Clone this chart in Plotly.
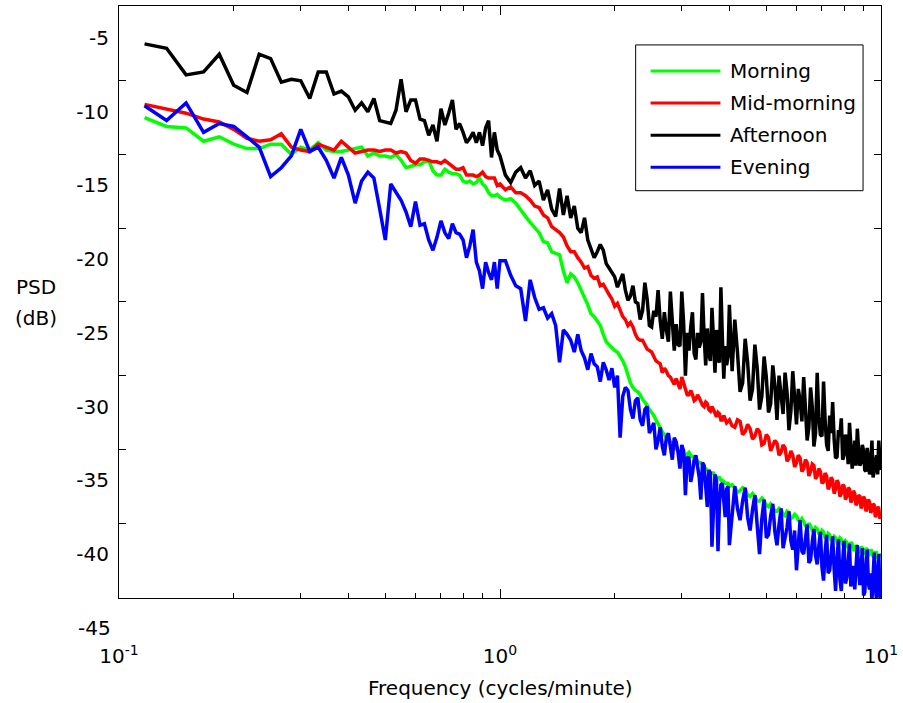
import plotly.graph_objects as go

# ---------------- data ----------------
FREQ = [
    0.1167, 0.1333, 0.15, 0.1667, 0.1833, 0.2, 0.2167, 0.2333, 0.25, 0.2667,
    0.2833, 0.3, 0.3167, 0.3333, 0.35, 0.3667, 0.3833, 0.4, 0.4167, 0.4333,
    0.45, 0.4667, 0.4833, 0.5, 0.5167, 0.5333, 0.55, 0.5667, 0.5833, 0.6,
    0.6167, 0.6333, 0.65, 0.6667, 0.6833, 0.7, 0.7167, 0.7333, 0.75, 0.7667,
    0.7833, 0.8, 0.8167, 0.8333, 0.85, 0.8667, 0.8833, 0.9, 0.9167, 0.9333,
    0.95, 0.9667, 0.9833, 1.0,
    1.0333, 1.0667, 1.1, 1.1333, 1.1667, 1.2, 1.2333, 1.2667, 1.3, 1.3333,
    1.3667, 1.4, 1.4333, 1.4667, 1.5, 1.5333, 1.5667, 1.6, 1.6333, 1.6667,
    1.7, 1.7333, 1.7667, 1.8, 1.8333, 1.8667, 1.9, 1.9333, 1.9667, 2.0,
    2.0333, 2.0667, 2.1, 2.1333, 2.1667, 2.2, 2.2333, 2.2667, 2.3, 2.3333,
    2.3667, 2.4, 2.4333, 2.4667, 2.5, 2.5333, 2.5667, 2.6, 2.6333, 2.6667,
    2.7, 2.7333, 2.7667, 2.8, 2.8333, 2.8667, 2.9, 2.9333, 2.9667, 3.0,
    3.0333, 3.0667, 3.1, 3.1333, 3.1667, 3.2, 3.2333, 3.2667, 3.3, 3.3333,
    3.3667, 3.4, 3.4333, 3.4667, 3.5, 3.5333, 3.5667, 3.6, 3.6333, 3.6667,
    3.7, 3.7333, 3.7667, 3.8, 3.8333, 3.8667, 3.9, 3.9333, 3.9667, 4.0,
    4.0667, 4.1333, 4.2, 4.2667, 4.3333, 4.4, 4.4667, 4.5333, 4.6, 4.6667,
    4.7333, 4.8, 4.8667, 4.9333, 5.0, 5.0667, 5.1333, 5.2, 5.2667, 5.3333,
    5.4, 5.4667, 5.5333, 5.6, 5.6667, 5.7333, 5.8, 5.8667, 5.9333, 6.0,
    6.0667, 6.1333, 6.2, 6.2667, 6.3333, 6.4, 6.4667, 6.5333, 6.6, 6.6667,
    6.7333, 6.8, 6.8667, 6.9333, 7.0, 7.0667, 7.1333, 7.2, 7.2667, 7.3333,
    7.4, 7.4667, 7.5333, 7.6, 7.6667, 7.7333, 7.8, 7.8667, 7.9333, 8.0,
    8.0667, 8.1333, 8.2, 8.2667, 8.3333, 8.4, 8.4667, 8.5333, 8.6, 8.6667,
    8.7333, 8.8, 8.8667, 8.9333, 9.0, 9.0667, 9.1333, 9.2, 9.2667, 9.3333,
    9.4, 9.4667, 9.5333, 9.6, 9.6667, 9.7333, 9.8, 9.8667, 9.9333, 10.0,
]

MORNING = [
    -10.4, -11.0, -11.1, -12.0, -11.7, -12.2, -12.5, -12.5, -12.2, -12.2,
    -12.9, -12.4, -12.6, -12.1, -12.6, -12.7, -12.7, -12.6, -12.5, -12.4,
    -13.0, -12.8, -13.0, -13.0, -13.1, -12.9, -13.3, -13.8, -13.7, -13.6,
    -13.6, -13.4, -13.3, -14.0, -14.3, -14.3, -13.9, -14.1, -14.2, -14.2,
    -14.3, -14.7, -14.8, -14.7, -14.9, -14.8, -14.5, -14.9, -15.1, -15.5,
    -15.7, -15.7, -15.6, -15.8,
    -16.0, -15.9, -16.2, -16.7, -17.1, -17.5, -17.9, -18.2, -18.8, -18.9,
    -19.5, -19.6, -19.7, -20.8, -21.6, -21.0, -21.2, -21.6, -22.1, -22.6,
    -23.1, -23.7, -23.9, -24.2, -24.5, -25.1, -25.6, -25.8, -26.0, -26.2,
    -26.3, -26.6, -26.9, -27.3, -27.9, -28.4, -28.7, -28.9, -29.0, -29.2,
    -29.5, -29.7, -29.9, -30.2, -30.4, -30.6, -30.9, -31.2, -31.5, -31.7,
    -31.9, -32.1, -32.3, -32.4, -32.5, -32.7, -32.9, -33.0, -33.1, -33.3,
    -33.2, -33.3, -33.2, -33.1, -33.3, -33.4, -33.4, -33.5, -33.7, -33.8,
    -33.8, -34.0, -34.1, -34.2, -34.3, -34.4, -34.5, -34.5, -34.5, -34.7,
    -34.8, -34.8, -34.8, -35.0, -35.0, -35.1, -35.2, -35.2, -35.2, -35.4,
    -35.3, -35.5, -35.8, -35.7, -35.5, -35.6, -36.0, -36.1, -35.9, -36.1,
    -36.4, -36.4, -36.2, -36.4, -36.7, -36.8, -36.6, -36.8, -37.1, -37.1,
    -36.9, -37.0, -37.3, -37.4, -37.1, -37.2, -37.6, -37.5, -37.3, -37.4,
    -37.7, -37.8, -37.6, -37.8, -38.1, -38.2, -37.9, -38.1, -38.4, -38.5,
    -38.2, -38.3, -38.6, -38.7, -38.4, -38.5, -38.9, -38.9, -38.6, -38.7,
    -39.1, -39.0, -38.8, -38.9, -39.2, -39.1, -38.9, -39.0, -39.4, -39.3,
    -39.1, -39.2, -39.6, -39.5, -39.2, -39.3, -39.7, -39.7, -39.4, -39.5,
    -39.9, -39.8, -39.5, -39.6, -40.0, -39.9, -39.6, -39.7, -40.1, -40.0,
    -39.7, -39.8, -40.2, -40.1, -39.9, -39.9, -40.3, -40.2, -40.0, -40.1,
]

MID_MORNING = [
    -9.5, -9.8, -10.1, -10.5, -10.7, -11.2, -11.8, -12.0, -11.9, -11.5,
    -12.4, -12.6, -12.7, -12.2, -12.4, -12.6, -12.0, -12.4, -12.8, -12.7,
    -12.6, -12.6, -12.7, -12.6, -12.6, -12.8, -12.7, -12.8, -13.3, -13.5,
    -13.2, -13.2, -13.3, -13.4, -13.4, -13.5, -13.3, -13.5, -13.7, -13.9,
    -13.9, -13.8, -14.3, -14.3, -14.3, -14.4, -14.3, -14.1, -14.4, -14.5,
    -14.5, -14.5, -15.0, -14.9,
    -15.3, -15.1, -15.5, -15.5, -15.7, -16.0, -16.4, -16.5, -17.0, -17.2,
    -17.8, -18.0, -18.2, -18.5, -19.1, -19.5, -19.5, -19.9, -20.2, -20.6,
    -20.5, -21.1, -21.3, -21.2, -21.8, -21.7, -22.1, -22.4, -22.7, -23.2,
    -23.0, -23.4, -23.9, -24.1, -24.5, -24.3, -24.6, -25.1, -25.4, -25.5,
    -25.5, -25.8, -26.1, -26.2, -26.3, -26.6, -26.9, -27.0, -27.1, -27.7,
    -27.4, -27.6, -27.9, -28.0, -28.3, -28.5, -28.1, -28.5, -28.8, -28.0,
    -28.4, -28.9, -29.2, -29.2, -28.9, -29.2, -29.6, -29.5, -29.2, -29.4,
    -29.7, -29.9, -30.0, -29.7, -29.8, -30.2, -30.3, -30.0, -30.2, -30.5,
    -30.7, -30.4, -30.5, -30.9, -30.9, -30.6, -30.8, -31.1, -31.0, -30.9,
    -31.3, -31.4, -30.9, -31.0, -31.9, -31.7, -31.2, -31.5, -32.2, -32.0,
    -31.5, -31.7, -32.6, -32.5, -31.9, -32.1, -33.0, -32.7, -32.3, -32.5,
    -33.3, -33.1, -32.6, -32.8, -33.7, -33.5, -33.0, -33.3, -34.1, -33.8,
    -33.3, -33.5, -34.4, -34.2, -33.6, -33.8, -34.7, -34.4, -33.9, -34.0,
    -34.9, -34.7, -34.2, -34.4, -35.2, -35.1, -34.5, -34.7, -35.6, -35.4,
    -34.8, -35.0, -35.9, -35.6, -35.0, -35.2, -36.1, -35.9, -35.3, -35.4,
    -36.3, -36.1, -35.5, -35.6, -36.5, -36.3, -35.7, -35.9, -36.7, -36.5,
    -36.0, -36.1, -36.9, -36.7, -36.1, -36.3, -37.1, -36.9, -36.3, -36.5,
    -37.2, -37.0, -36.6, -36.7, -37.5, -37.3, -36.8, -36.9, -37.6, -37.4,
]

AFTERNOON = [
    -5.4, -5.7, -7.5, -7.3, -6.1, -8.2, -8.7, -6.1, -6.4, -8.0,
    -7.8, -7.9, -9.1, -7.3, -7.3, -8.8, -8.6, -9.0, -9.9, -9.4,
    -10.0, -9.1, -10.6, -10.7, -10.8, -9.9, -7.8, -10.0, -9.2, -9.2,
    -10.5, -10.6, -11.6, -10.9, -12.0, -9.8, -10.9, -10.1, -9.2, -11.2,
    -10.8, -11.4, -12.1, -11.8, -11.4, -12.1, -11.4, -12.3, -11.1, -10.6,
    -13.1, -11.4, -12.6, -13.0,
    -14.3, -14.8, -14.1, -13.8, -14.5, -14.0, -15.0, -14.7, -16.0, -15.3,
    -16.6, -17.1, -15.2, -17.0, -15.7, -17.2, -16.4, -17.9, -18.2, -17.2,
    -18.7, -19.3, -19.9, -19.5, -19.0, -19.4, -20.3, -20.6, -20.9, -21.2,
    -21.9, -21.5, -21.0, -22.1, -22.8, -22.5, -21.8, -22.9, -23.0, -24.1,
    -23.5, -21.6, -22.7, -24.5, -24.6, -23.5, -23.9, -22.1, -24.2, -25.4,
    -23.6, -24.8, -25.6, -22.2, -24.0, -26.2, -24.4, -25.8, -25.9, -22.2,
    -24.3, -27.9, -25.0, -26.2, -24.6, -23.6, -26.4, -26.8, -25.0, -26.0,
    -25.6, -22.3, -25.2, -27.2, -24.7, -26.5, -26.9, -23.3, -25.4, -27.7,
    -24.8, -26.8, -27.0, -21.9, -25.3, -28.1, -25.9, -27.2, -26.6, -23.1,
    -27.6, -24.1, -26.3, -29.0, -28.4, -25.4, -27.0, -29.6, -28.8, -25.8,
    -27.4, -30.2, -29.3, -26.6, -28.0, -30.4, -29.8, -27.2, -28.6, -30.9,
    -27.9, -29.2, -30.5, -27.7, -29.0, -31.6, -30.3, -27.6, -29.9, -31.2,
    -28.8, -29.6, -31.0, -28.0, -30.1, -32.3, -31.4, -28.7, -30.0, -32.7,
    -31.8, -27.7, -30.7, -31.9, -32.0, -28.3, -30.9, -32.6, -33.0, -30.6,
    -31.8, -29.7, -32.2, -33.5, -33.4, -31.6, -32.0, -30.8, -33.6, -33.3,
    -31.9, -32.3, -33.9, -31.1, -32.6, -34.2, -33.4, -32.3, -34.0, -31.5,
    -32.9, -34.0, -33.8, -32.6, -33.0, -34.3, -34.4, -32.8, -33.6, -34.6,
    -33.9, -32.3, -34.8, -34.3, -33.5, -33.3, -34.6, -32.3, -33.7, -34.3,
]

EVENING = [
    -9.6, -10.6, -9.4, -11.4, -10.8, -11.0, -11.7, -12.4, -14.4, -13.8,
    -13.0, -11.2, -12.7, -12.4, -13.3, -14.5, -13.1, -14.3, -16.2, -14.7,
    -14.1, -14.5, -16.6, -18.7, -14.9, -15.5, -16.0, -16.8, -17.8, -16.1,
    -17.7, -17.6, -18.7, -19.4, -18.5, -17.4, -18.2, -18.6, -17.6, -18.2,
    -18.3, -18.7, -19.9, -19.1, -18.0, -20.2, -20.8, -22.0, -20.2, -20.9,
    -21.4, -20.2, -22.0, -20.1,
    -20.1, -21.1, -21.8, -22.0, -24.2, -21.4, -22.6, -23.4, -23.3, -24.0,
    -23.7, -24.5, -27.0, -24.8, -25.1, -25.5, -26.3, -25.1, -26.2, -26.7,
    -27.5, -26.4, -27.1, -27.3, -28.3, -27.0, -27.5, -28.2, -27.4, -28.7,
    -27.9, -32.1, -29.3, -28.7, -28.9, -30.2, -30.8, -29.6, -29.4, -30.9,
    -31.3, -30.2, -30.0, -31.8, -31.5, -31.1, -32.9, -32.3, -31.4, -32.7,
    -33.3, -32.1, -31.8, -32.9, -33.6, -32.1, -32.4, -33.1, -34.2, -32.6,
    -33.0, -36.0, -33.4, -33.5, -35.1, -34.5, -33.6, -33.3, -33.9, -34.8,
    -36.3, -33.8, -34.0, -35.6, -36.8, -34.3, -34.5, -39.5, -37.0, -34.6,
    -35.0, -39.8, -36.6, -35.3, -35.2, -36.3, -37.5, -35.6, -35.4, -39.4,
    -37.2, -35.4, -36.9, -37.7, -36.4, -35.5, -37.5, -38.4, -37.0, -36.0,
    -38.1, -40.0, -37.6, -36.3, -38.9, -38.7, -37.4, -36.6, -38.5, -39.4,
    -38.0, -36.9, -39.6, -39.0, -38.2, -37.1, -39.1, -39.7, -38.4, -41.1,
    -39.3, -37.7, -39.8, -40.0, -39.0, -38.0, -40.6, -40.4, -39.2, -38.3,
    -40.1, -40.7, -39.5, -38.5, -40.9, -41.8, -39.9, -38.7, -41.3, -41.1,
    -40.0, -38.8, -41.0, -42.5, -40.3, -39.0, -41.7, -42.5, -40.5, -39.1,
    -42.0, -41.6, -40.6, -39.3, -42.2, -41.4, -40.8, -42.4, -41.2, -39.4,
    -41.0, -42.1, -40.9, -39.6, -42.8, -42.6, -41.0, -39.7, -42.0, -42.4,
    -41.3, -43.2, -41.5, -39.9, -42.3, -43.1, -41.6, -40.0, -42.7, -43.4,
]

SERIES_NAMES = ["Morning", "Mid-morning", "Afternoon", "Evening"]
SERIES_COLORS = ["#00ff00", "#ff0000", "#000000", "#0000ff"]
SERIES_VALUES = [MORNING, MID_MORNING, AFTERNOON, EVENING]

X_TICK_VALS = [0.1, 1, 10]
X_TICK_TEXT = ["10<sup>-1</sup>", "10<sup>0</sup>", "10<sup>1</sup>"]
X_MINOR_VALS = [0.2, 0.3, 0.4, 0.5, 0.6, 0.7, 0.8, 0.9, 2, 3, 4, 5, 6, 7, 8, 9]
Y_TICK_VALS = [-5, -10, -15, -20, -25, -30, -35, -40]
Y_TICK_TEXT = ["-5", "-10", "-15", "-20", "-25", "-30", "-35", "-40"]
Y_EXTRA_LABEL = "-45"
Y_MINOR_VALS = [-7.9, -12.9, -17.9, -22.9, -27.9, -32.9, -37.9]
Y_RANGE = [-42.98, -2.83]

# ---------------- layout geometry ----------------
W, H = 903, 703
ML, MR, MT, MB = 119, 20, 5, 105
PW, PH = W - ML - MR, H - MT - MB
FONT = "DejaVu Sans"


def px_x(px):
    return (px - ML) / PW


def px_y(py):
    return (H - MB - py) / PH


fig = go.Figure()
for name, color, vals in zip(SERIES_NAMES, SERIES_COLORS, SERIES_VALUES):
    fig.add_trace(go.Scatter(x=FREQ, y=vals, mode="lines", name=name,
                             line=dict(color=color, width=3.5),
                             showlegend=False))

fig.update_layout(
    width=W, height=H, autosize=False,
    margin=dict(l=ML, r=MR, t=MT, b=MB, pad=0),
    paper_bgcolor="white", plot_bgcolor="white",
    font=dict(family=FONT, size=20, color="black"),
    xaxis=dict(
        type="log", range=[-1, 1], showgrid=False, zeroline=False,
        showline=True, linecolor="black", linewidth=1, mirror="ticks",
        ticks="inside", ticklen=9, tickwidth=1, tickcolor="black",
        tickmode="array", tickvals=X_TICK_VALS, ticktext=X_TICK_TEXT,
        tickfont=dict(family=FONT, size=20, color="black"),
        ticklabelstandoff=40,
        minor=dict(tickmode="array", tickvals=X_MINOR_VALS, ticks="inside",
                   ticklen=5, tickwidth=1, tickcolor="black", showgrid=False),
    ),
    yaxis=dict(
        range=Y_RANGE, showgrid=False, zeroline=False,
        showline=True, linecolor="black", linewidth=1, mirror="ticks",
        ticks="", tickmode="array", tickvals=Y_TICK_VALS, ticktext=Y_TICK_TEXT,
        tickfont=dict(family=FONT, size=20, color="black"),
        ticklabelstandoff=5,
        minor=dict(tickmode="array", tickvals=Y_MINOR_VALS, ticks="inside",
                   ticklen=7, tickwidth=1, tickcolor="black", showgrid=False),
    ),
)

annotations = []
# extra y label below the frame
annotations.append(dict(
    text=Y_EXTRA_LABEL, xref="paper", yref="paper", x=px_x(113), xanchor="right",
    y=(-45 - Y_RANGE[0]) / (Y_RANGE[1] - Y_RANGE[0]), yanchor="middle",
    showarrow=False, font=dict(family=FONT, size=20, color="black")))
# axis titles
annotations.append(dict(
    text="Frequency (cycles/minute)", xref="paper", yref="paper",
    x=0.5, xanchor="center", y=px_y(688), yanchor="middle",
    showarrow=False, font=dict(family=FONT, size=20, color="black")))
annotations.append(dict(
    text="PSD", xref="paper", yref="paper", x=px_x(36), xanchor="center",
    y=px_y(286), yanchor="middle", showarrow=False,
    font=dict(family=FONT, size=20, color="black")))
annotations.append(dict(
    text="(dB)", xref="paper", yref="paper", x=px_x(36), xanchor="center",
    y=px_y(318), yanchor="middle", showarrow=False,
    font=dict(family=FONT, size=20, color="black")))

# legend drawn as a framed box with sample lines
shapes = [dict(type="rect", xref="paper", yref="paper",
               x0=px_x(637), x1=px_x(865), y0=px_y(190), y1=px_y(44),
               line=dict(color="black", width=1), fillcolor="white", layer="above")]
row0, row_step = 70, 32.2
for i, (name, color) in enumerate(zip(SERIES_NAMES, SERIES_COLORS)):
    ry = px_y(row0 + i * row_step)
    shapes.append(dict(type="line", xref="paper", yref="paper",
                       x0=px_x(652), x1=px_x(722), y0=ry, y1=ry,
                       line=dict(color=color, width=3), layer="above"))
    annotations.append(dict(text=name, xref="paper", yref="paper",
                            x=px_x(730), xanchor="left", y=ry, yanchor="middle",
                            showarrow=False,
                            font=dict(family=FONT, size=20, color="black")))

fig.update_layout(annotations=annotations, shapes=shapes)
fig.write_html("out.html")
